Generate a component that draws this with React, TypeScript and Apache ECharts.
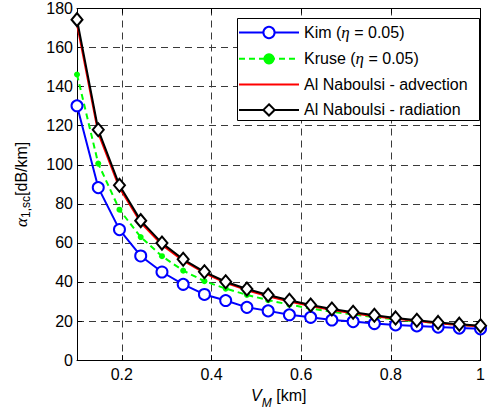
import React, { useEffect, useRef } from "react";
import * as echarts from "echarts";

const vm = [0.1, 0.1474, 0.1947, 0.2421, 0.2895, 0.3368, 0.3842, 0.4316, 0.4789, 0.5263, 0.5737, 0.6211, 0.6684, 0.7158, 0.7632, 0.8105, 0.8579, 0.9053, 0.9526, 1.0];
const kim = [130.2, 88.3, 66.8, 53.3, 45.1, 38.8, 33.6, 30.5, 27.0, 25.2, 23.2, 21.9, 20.5, 19.7, 18.7, 18.0, 17.5, 16.9, 16.4, 16.0];
const kruse = [146.2, 100.6, 77.0, 63.0, 53.2, 45.8, 40.4, 36.6, 33.4, 30.7, 28.4, 26.4, 24.7, 23.3, 22.0, 20.8, 19.8, 18.9, 18.1, 17.3];
const advection = [172.0, 116.2, 88.2, 70.4, 59.0, 50.9, 44.6, 39.6, 35.8, 32.7, 30.0, 27.7, 25.7, 24.0, 22.5, 21.2, 20.0, 18.9, 18.0, 17.2];
const radiation = [174.3, 117.9, 89.5, 71.4, 59.9, 51.6, 45.2, 40.1, 36.4, 33.3, 30.6, 28.2, 26.2, 24.5, 23.0, 21.6, 20.4, 19.3, 18.4, 17.6];
const xTicks = [0.2, 0.4, 0.6, 0.8, 1];
const seriesNames = ["Kim (η = 0.05)", "Kruse (η = 0.05)", "Al Naboulsi - advection", "Al Naboulsi - radiation"];

const FONT = "Liberation Sans, Arial, sans-serif";
const pairs = (ys: number[]) => vm.map((x, i) => [x, ys[i]]);

export default function App() {
  const ref = useRef<HTMLDivElement>(null);
  useEffect(() => {
    if (!ref.current) return;
    const chart = echarts.init(ref.current, null, { renderer: "svg" });
    const gridLine = { show: true, lineStyle: { color: "#3a3a3a", type: [7, 5], width: 1 } };
    const axisLine = { show: true, onZero: false, lineStyle: { color: "#000", width: 1 } };
    const tick = { show: true, inside: true, length: 5, lineStyle: { color: "#000" } };
    chart.setOption({
      animation: false,
      backgroundColor: "#fff",
      grid: { left: 77, right: 1, top: 8.5, bottom: 50, containLabel: false },
      xAxis: [
        {
          type: "value", min: 0.1, max: 1, position: "bottom",
          axisLine, axisTick: { ...tick, customValues: xTicks },
          axisLabel: { customValues: xTicks, color: "#000", fontFamily: FONT, fontSize: 16, margin: 6, formatter: (v: number) => String(Math.round(v * 10) / 10) },
          splitLine: gridLine,
          name: "{v|V}{m|M}{t| [km]}", nameLocation: "middle", nameGap: 20,
          nameTextStyle: {
            rich: {
              v: { fontFamily: FONT, fontStyle: "italic", fontSize: 16, lineHeight: 28, color: "#000" },
              m: { fontFamily: FONT, fontStyle: "italic", fontSize: 12, lineHeight: 12, verticalAlign: "bottom", color: "#000" },
              t: { fontFamily: FONT, fontSize: 16, lineHeight: 28, color: "#000" },
            },
          },
        },
        {
          type: "value", min: 0.1, max: 1, position: "top",
          axisLine, axisTick: { ...tick, customValues: xTicks },
          axisLabel: { show: false, customValues: xTicks }, splitLine: { show: false },
        },
      ],
      yAxis: [
        {
          type: "value", min: 0, max: 180, interval: 20, position: "left",
          axisLine, axisTick: tick,
          axisLabel: { color: "#000", fontFamily: FONT, fontSize: 16, margin: 4 },
          splitLine: gridLine,
          name: "{a|α}{s|1,sc}{b|[dB/km]}", nameLocation: "middle", nameRotate: 90, nameGap: 45,
          nameTextStyle: {
            rich: {
              a: { fontFamily: "Liberation Serif, serif", fontStyle: "italic", fontSize: 17, lineHeight: 22, color: "#000" },
              s: { fontFamily: FONT, fontSize: 12, lineHeight: 11, verticalAlign: "bottom", color: "#000" },
              b: { fontFamily: FONT, fontSize: 16, lineHeight: 22, color: "#000" },
            },
          },
        },
        {
          type: "value", min: 0, max: 180, interval: 20, position: "right",
          axisLine, axisTick: tick, axisLabel: { show: false }, splitLine: { show: false },
        },
      ],
      graphic: [
        {
          type: "rect", left: 237, top: 18, z: 3,
          shape: { width: 242, height: 102 },
          style: { fill: "#fff", stroke: "#000", lineWidth: 1 },
        },
      ],
      legend: {
        orient: "vertical", left: 238, top: 24, padding: 0, z: 10,
        itemWidth: 60, itemHeight: 14, itemGap: 9.3,
        data: [
          { name: seriesNames[0] },
          { name: seriesNames[1] },
          { name: seriesNames[2], itemStyle: { opacity: 0 } },
          { name: seriesNames[3] },
        ],
        formatter: (name: string) => name.replace("η", "{i|η}"),
        textStyle: {
          fontFamily: FONT, fontSize: 16, color: "#000",
          rich: { i: { fontFamily: "Liberation Serif, serif", fontStyle: "italic", fontSize: 17, color: "#000" } },
        },
      },
      series: [
        {
          name: seriesNames[0], type: "line", data: pairs(kim),
          symbol: "emptyCircle", symbolSize: 11,
          lineStyle: { color: "#0000ff", width: 2 },
          itemStyle: { color: "#0000ff", borderColor: "#0000ff", borderWidth: 2 },
        },
        {
          name: seriesNames[1], type: "line", data: pairs(kruse),
          symbol: "circle", symbolSize: 6,
          lineStyle: { color: "#00ff00", width: 2, type: [6, 4] },
          itemStyle: { color: "#00ff00" },
        },
        {
          name: seriesNames[2], type: "line", data: pairs(advection),
          symbol: "none", showSymbol: false,
          lineStyle: { color: "#ff0000", width: 2 },
          itemStyle: { color: "#ff0000" },
        },
        {
          name: seriesNames[3], type: "line", data: pairs(radiation),
          symbol: "emptyDiamond", symbolSize: [11, 13],
          lineStyle: { color: "#000", width: 2 },
          itemStyle: { color: "#000", borderColor: "#000", borderWidth: 2 },
        },
      ],
    });
    return () => chart.dispose();
  }, []);
  return <div ref={ref} style={{ position: "fixed", left: 0, top: 0, width: 488, height: 414 }} />;
}
